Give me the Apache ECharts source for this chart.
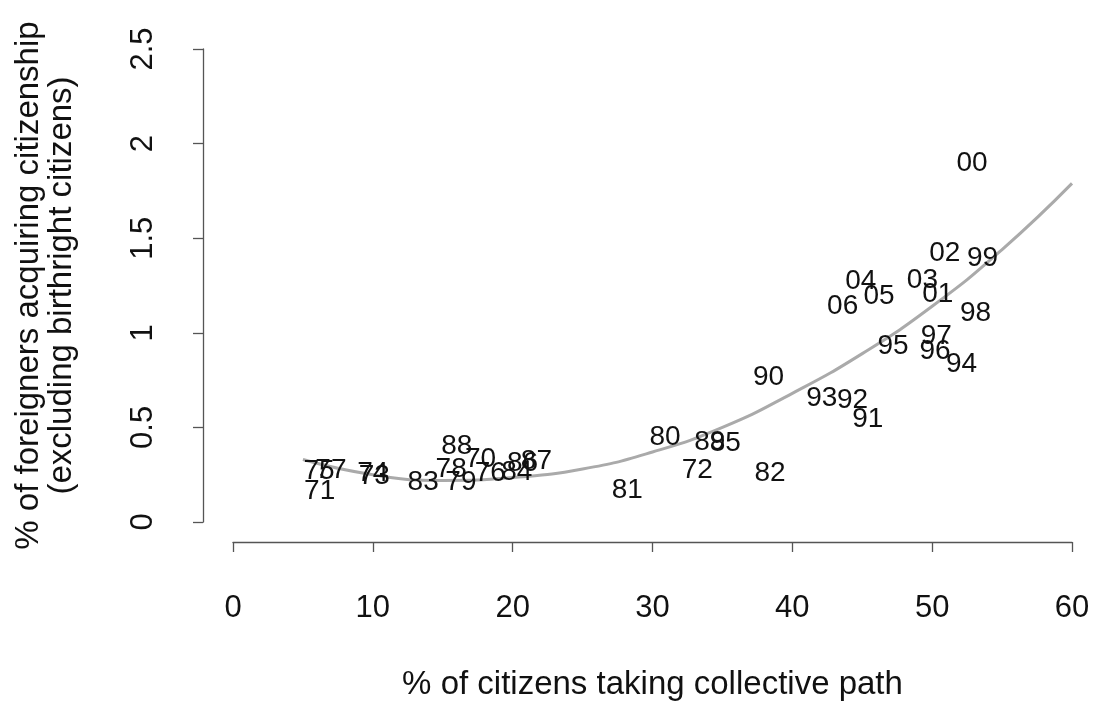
<!DOCTYPE html>
<html>
<head>
<meta charset="utf-8">
<script src="https://cdn.jsdelivr.net/npm/echarts@6/dist/echarts.min.js"></script>
<style>html,body{margin:0;padding:0;background:#fff;}#c{width:1093px;height:703px;}</style>
</head>
<body>
<div id="c"></div>
<script>
var years = ['70','71','72','73','74','75','76','77','78','79','80','81','82','83','84','85','86','87','88','89','90','91','92','93','94','95','96','97','98','99','00','01','02','03','04','05','06'];
var collectivePct = [17.7,6.2,33.2,10.1,10.0,6.15,18.4,7.0,15.6,16.3,30.9,28.2,38.4,13.6,20.3,35.2,20.7,21.7,16.0,34.1,38.3,45.4,44.3,42.1,52.1,47.2,50.2,50.3,53.1,53.6,52.85,50.4,50.9,49.3,44.9,46.2,43.6];
var acquiringPct = [0.33,0.16,0.275,0.24,0.255,0.27,0.255,0.275,0.28,0.21,0.45,0.17,0.26,0.21,0.265,0.415,0.31,0.32,0.40,0.42,0.766,0.544,0.645,0.655,0.835,0.93,0.904,0.983,1.105,1.395,1.897,1.205,1.42,1.28,1.27,1.195,1.14];
var fitX = [5,10,15,20,25,30,35,40,45,50,55,60];
var fitY = [0.33,0.25,0.22,0.235,0.28,0.37,0.50,0.68,0.89,1.14,1.44,1.79];
var xTicks = [0,10,20,30,40,50,60];
var yTicks = [0,0.5,1,1.5,2,2.5];

var font = 'Liberation Sans, Arial, sans-serif';
var pts = years.map(function(y,i){ return {name:y, value:[collectivePct[i], acquiringPct[i]]}; });
var fit = fitX.map(function(x,i){ return [x, fitY[i]]; });

var chart = echarts.init(document.getElementById('c'));
chart.setOption({
  animation:false,
  backgroundColor:'#fff',
  grid:{left:233, right:21, top:49, bottom:181, containLabel:false, outerBoundsMode:'none'},
  xAxis:{
    type:'value', min:0, max:60, interval:10, offset:20,
    axisLine:{show:true, onZero:false, lineStyle:{color:'#555', width:1.3}},
    axisTick:{show:true, length:10, lineStyle:{color:'#555', width:1.3}},
    splitLine:{show:false},
    axisLabel:{margin:51, fontSize:31, color:'#111', fontFamily:font,
      formatter:function(v){ return xTicks.indexOf(v)>=0 ? String(v) : ''; }},
    name:'% of citizens taking collective path', nameLocation:'middle', nameGap:126,
    nameTextStyle:{fontSize:33, color:'#111', fontFamily:font}
  },
  yAxis:{
    type:'value', min:0, max:2.5, interval:0.5, offset:30,
    axisLine:{show:true, onZero:false, lineStyle:{color:'#555', width:1.3}},
    axisTick:{show:true, length:10, lineStyle:{color:'#555', width:1.3}},
    splitLine:{show:false},
    axisLabel:{rotate:90, margin:44, fontSize:31, color:'#111', fontFamily:font,
      formatter:function(v){ return yTicks.indexOf(v)>=0 ? String(v) : ''; }},
    name:'% of foreigners acquiring citizenship\n(excluding birthright citizens)',
    nameLocation:'middle', nameRotate:90, nameGap:125,
    nameTextStyle:{fontSize:33, lineHeight:33, color:'#111', fontFamily:font, align:'center'}
  },
  series:[
    {type:'line', data:fit, smooth:true, symbol:'none',
     lineStyle:{color:'#aaaaaa', width:3}, z:1},
    {type:'scatter', data:pts, symbolSize:2, itemStyle:{color:'rgba(0,0,0,0)', opacity:1}, z:2,
     label:{show:true, position:'inside', formatter:'{b}', fontSize:28, color:'#111', opacity:1,
       fontFamily:font, align:'center', verticalAlign:'middle'}}
  ]
});
</script>
</body>
</html>
